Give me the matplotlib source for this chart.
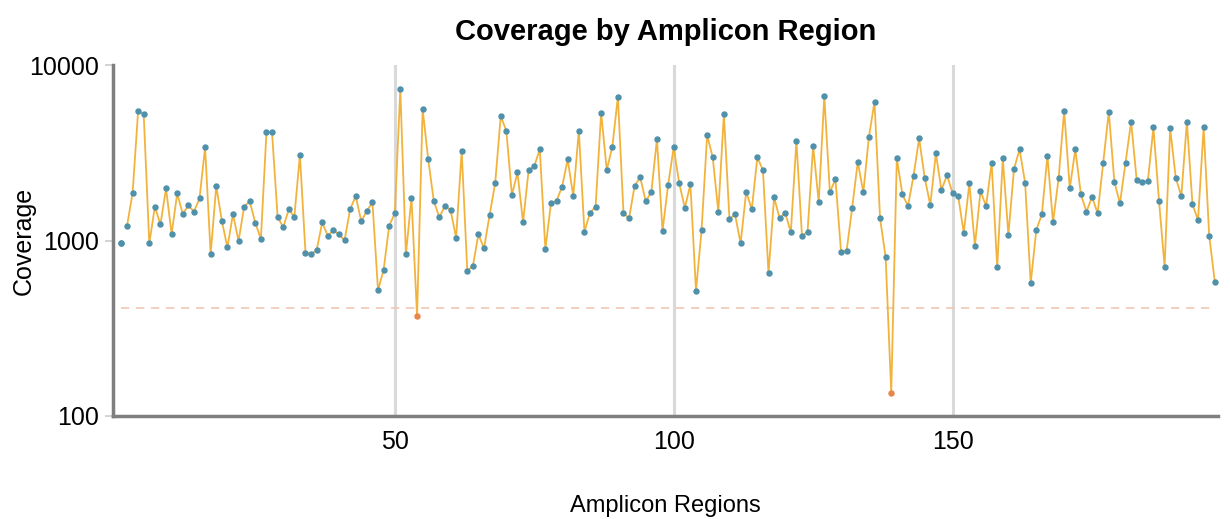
import matplotlib
matplotlib.use("Agg")
import matplotlib.pyplot as plt
import numpy as np

plt.rcParams["font.family"] = ["Liberation Sans", "DejaVu Sans"]

# coverage per amplicon region
coverage = [
    972, 1209, 1857, 5492, 5234, 964, 1559, 1236, 1983, 1089,
    1857, 1416, 1586, 1460, 1739, 3396, 838, 2045, 1297, 914,
    1416, 994, 1559, 1672, 1264, 1020, 4132, 4132, 1367, 1189,
    1505, 1367, 3070, 852, 834, 883, 1269, 1061, 1148, 1084,
    1002, 1505, 1793, 1286, 1479, 1650, 522, 679, 1215, 1428,
    7265, 834, 1754, 371, 5613, 2901, 1679, 1355, 1579, 1492,
    1038, 3236, 673, 716, 1084, 902, 1398, 2117, 5121, 4224,
    1816, 2445, 1269, 2521, 2657, 3308, 894, 1628, 1687, 2026,
    2901, 1793, 4224, 1123, 1441, 1559, 5350, 2521, 3425, 6600,
    1441, 1337, 2054, 2290, 1672, 1898, 3787, 1133, 2071, 3396,
    2117, 1538, 2089, 516, 1148, 3991, 2978, 1460, 5234, 1326,
    1410, 964, 1898, 1505, 2978, 2521, 650, 1762, 1337, 1441,
    1113, 3706, 1061, 1123, 3470, 1650, 6658, 1881, 2240, 864,
    875, 1538, 2813, 1881, 3905, 6181, 1337, 802, 135, 2939,
    1833, 1572, 2341, 3821, 2280, 1593, 3138, 1940, 2362, 1857,
    1793, 1108, 2117, 934, 1914, 1572, 2777, 703, 2939, 1075,
    2555, 3308, 2136, 570, 1148, 1410, 3043, 1269, 2260, 5492,
    1983, 3308, 1833, 1460, 1777, 1428, 2777, 5420, 2164, 1628,
    2777, 4754, 2212, 2145, 2183, 4414, 1687, 709, 4356, 2280,
    1793, 4754, 1607, 1309, 4414, 1065, 583,
]
regions = list(range(1, len(coverage) + 1))
threshold = 415
grid_regions = [50, 100, 150]

x = np.array(regions)
y = np.array(coverage)
low = y < threshold

fig = plt.figure(figsize=(12.3, 5.19), dpi=100)
ax = fig.add_axes([0.0919, 0.1985, 0.898, 0.676])

for g in grid_regions:
    ax.axvline(g, color="#d9d9d9", lw=2.2, zorder=0)

ax.plot(x[0:1], y[0:1], "o", color="#4f90aa", ms=3.6, zorder=3)
ax.plot(x[1:], y[1:], color="#f2b33d", lw=1.3, zorder=2)
ax.plot(x[~low], y[~low], "o", color="#4f90aa", ms=3.6, zorder=3)
ax.plot(x[low], y[low], "o", color="#e8854a", ms=3.6, zorder=3)
ax.plot([x[0], x[-1]], [threshold, threshold], ls=(0, (5, 4)),
        color="#f0c8b4", lw=1.2, zorder=1)

ax.set_yscale("log")
ax.set_ylim(100, 10000)
ax.set_xlim(-0.5, 197.5)
ax.set_yticks([100, 1000, 10000])
ax.set_yticklabels(["100", "1000", "10000"])
ax.minorticks_off()
ax.set_xticks(grid_regions)
ax.tick_params(axis="x", length=0, pad=10, labelsize=18)
ax.tick_params(axis="y", length=6, width=1.2, color="#cccccc",
               pad=4, labelsize=18)

for side in ["top", "right"]:
    ax.spines[side].set_visible(False)
for side in ["left", "bottom"]:
    ax.spines[side].set_color("#7f7f7f")
    ax.spines[side].set_linewidth(2.5)

ax.set_title("Coverage by Amplicon Region", fontsize=21, fontweight="bold", pad=18)
ax.set_xlabel("Amplicon Regions", fontsize=17)
ax.xaxis.set_label_coords(0.5, -0.226)
ax.set_ylabel("Coverage", fontsize=18)
ax.yaxis.set_label_coords(-0.07, 0.5)

fig.savefig("out.png", dpi=100)
